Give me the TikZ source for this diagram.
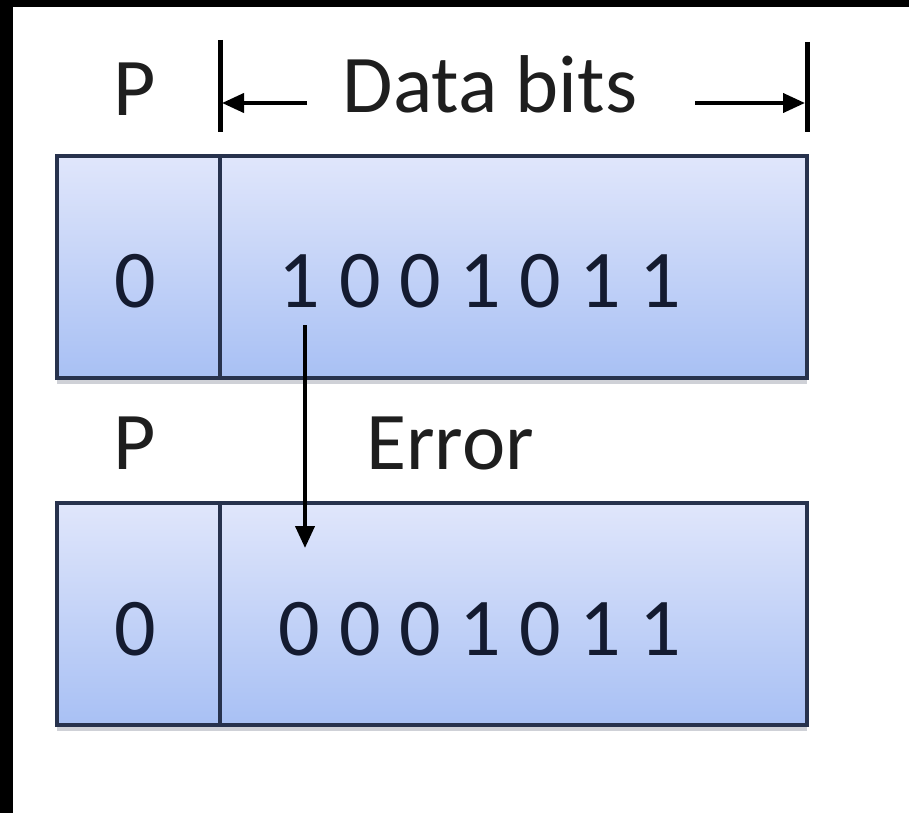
\documentclass[tikz,border=0pt]{standalone}
\usepackage{fontspec}
\setmainfont{Carlito}
\usetikzlibrary{arrows.meta,shadows}

\definecolor{boxtop}{HTML}{E0E6FB}
\definecolor{boxbot}{HTML}{A8C0F4}
\definecolor{boxline}{HTML}{27324D}
\definecolor{labelink}{HTML}{1E1E1E}
\definecolor{digitink}{HTML}{141B30}

\tikzset{
  x=1pt, y=-1pt,
  cell/.style={draw=boxline, line width=4.5pt, rectangle, inner sep=0pt,
    top color=boxtop, bottom color=boxbot, minimum height=222pt,
    drop shadow={shadow xshift=0pt, shadow yshift=-6pt, opacity=0.22, fill=boxline}},
  pcell/.style={cell, minimum width=163pt},
  dcell/.style={cell, minimum width=587pt},
  bigtext/.style={inner sep=0pt, anchor=base, font=\fontsize{82}{90}\selectfont},
  label/.style={bigtext, text=labelink},
  bits/.style={bigtext, text=digitink},
  tick/.style={line width=5pt, draw=black},
  dimarrow/.style={line width=4pt, -{Triangle[length=22pt, width=19pt]}},
}

\begin{document}
\begin{tikzpicture}
  % page and the dark frame strips along the top and left
  \fill[white] (0,0) rectangle (909,813);
  \useasboundingbox (0,0) rectangle (909,813);
  \fill[black] (0,0) rectangle (909,7);
  \fill[black] (0,0) rectangle (13,813);

  % transmitted word: parity cell and data cell
  \node[pcell] (p1) at (138.5,267) {};
  \node[dcell] (d1) at (513.5,267) {};
  % received word
  \node[pcell] (p2) at (138.5,614) {};
  \node[dcell] (d2) at (513.5,614) {};

  % cell contents
  \node[bits] (par1) at (135,307) {0};
  \node[bits] (word1) at (480,307) {1 0 0 1 0 1 1};
  \node[bits] (par2) at (135,655) {0};
  \node[bits] (word2) at (480,655) {0 0 0 1 0 1 1};

  % headings
  \node[label] (ph1) at (135,116) {P};
  \node[label] (ph2) at (135,469) {P};
  \node[label] (data) at (490,113) {Data bits};
  \node[label] (err) at (450,469) {Error};

  % dimension line over the data bits
  \coordinate (tl1) at (220,40);
  \coordinate (tl2) at (220,132);
  \coordinate (tr1) at (807,42);
  \coordinate (tr2) at (807,132);
  \draw[tick] (tl1) -- (tl2);
  \draw[tick] (tr1) -- (tr2);
  \coordinate (al) at (222,103);
  \coordinate (als) at (307,103);
  \coordinate (ar) at (805,103);
  \coordinate (ars) at (695,103);
  \draw[dimarrow] (als) -- (al);
  \draw[dimarrow] (ars) -- (ar);

  % flipped bit
  \coordinate (e1) at (305,325);
  \coordinate (e2) at (305,548);
  \draw[dimarrow] (e1) -- (e2);
\end{tikzpicture}
\end{document}
